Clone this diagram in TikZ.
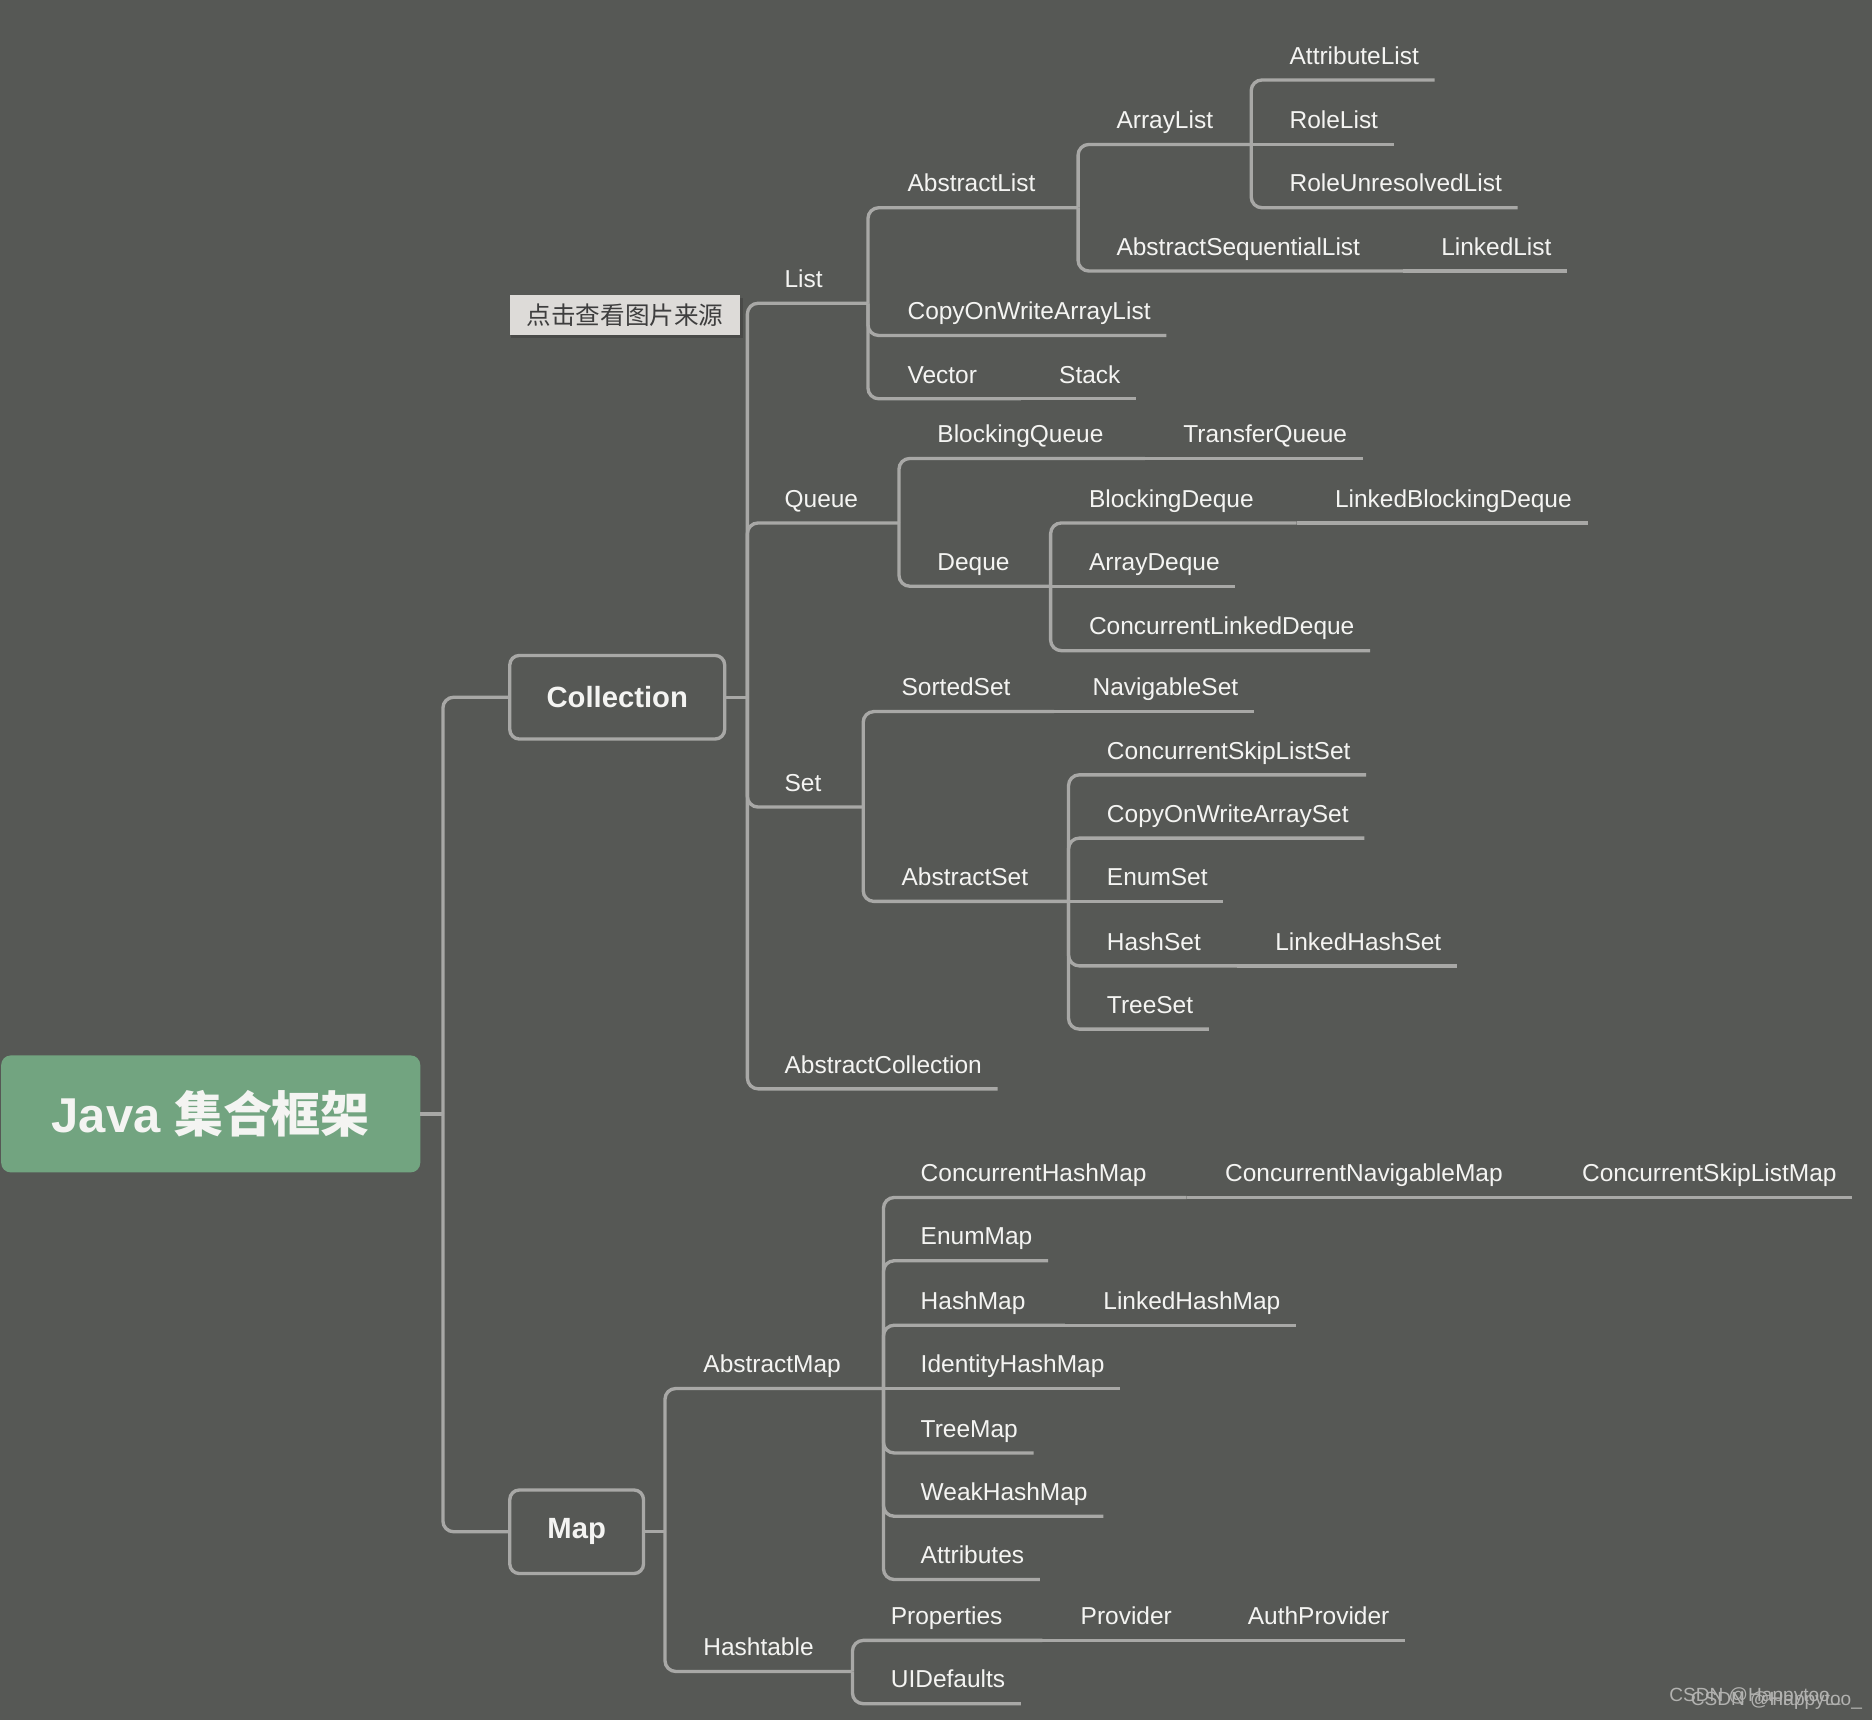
\documentclass[tikz,border=0pt]{standalone}
\usepackage{fontspec}
\setmainfont{Liberation Sans}
\newfontfamily\cjkfont{Noto Sans CJK SC}
\usepackage{xcolor}
\definecolor{bgcolor}{RGB}{86,88,85}
\definecolor{linecolor}{RGB}{168,168,166}
\definecolor{textcolor}{RGB}{244,244,242}
\definecolor{rootcolor}{RGB}{114,164,128}
\definecolor{tagcolor}{RGB}{221,219,216}
\definecolor{tagtext}{RGB}{62,62,62}
\definecolor{markcolor}{RGB}{178,178,176}
\usepackage{tikz}
\usetikzlibrary{calc}

\begin{document}
\begin{tikzpicture}[x=1pt, y=-1pt,
  every node/.style={color=textcolor, font=\fontsize{20.5}{24}\selectfont},
  topic/.style={anchor=south west, inner sep=0pt, text depth=13pt},
  branch/.style={linecolor, line width=2.8pt, rounded corners=9pt},
  box/.style={draw=linecolor, line width=2.8pt, rounded corners=8pt, minimum width=180pt, minimum height=70pt, font=\fontsize{24.5}{28}\selectfont\bfseries},
  rootbox/.style={fill=rootcolor, rounded corners=8pt, minimum width=351pt, minimum height=98pt, font=\fontsize{41}{48}\selectfont\bfseries},
  tag/.style={fill=tagcolor, text=tagtext, minimum width=193pt, minimum height=34pt, inner sep=0pt, font=\fontsize{20.6}{24}\cjkfont},
  watermark/.style={anchor=west, inner sep=0pt, text=markcolor, font=\fontsize{16}{18}\selectfont}]
  \fill[bgcolor] (0,0) rectangle (1568,1441);

  \node[rootbox] (java) at (176.5,933) {Java {\cjkfont\bfseries 集合框架}};
  \node[box] (collection) at (517,584) {Collection};
  \node[box, minimum width=112pt] (map) at (483,1283) {Map};
  \fill[black, opacity=0.15] (428,250) rectangle (622,283);
  \node[tag] (source) at (523.5,264) {点击查看图片来源};

  \coordinate (java-f) at (371,933);
  \coordinate (collection-f) at (626,584);
  \coordinate (map-f) at (557,1283);

  \node[topic] (list) at (657,254) {List};
  \node[topic] (queue) at (657,438) {Queue};
  \node[topic] (set) at (657,676) {Set};
  \node[topic] (abscoll) at (657,912) {AbstractCollection};
  \coordinate (list-f) at (727,254);
  \coordinate (queue-f) at (753,438);
  \coordinate (set-f) at (723,676);

  \node[topic] (abslist) at (760,174) {AbstractList};
  \node[topic] (cowal) at (760,281) {CopyOnWriteArrayList};
  \node[topic] (vector) at (760,334) {Vector};
  \node[topic] (stack) at (887,334) {Stack};
  \coordinate (abslist-f) at (903,174);
  \coordinate (vector-f) at (855,334);

  \node[topic] (arraylist) at (935,121) {ArrayList};
  \node[topic] (absseq) at (935,227) {AbstractSequentialList};
  \node[topic] (linkedlist) at (1207,227) {LinkedList};
  \coordinate (arraylist-f) at (1048,121);
  \coordinate (absseq-f) at (1175,227);

  \node[topic] (attrlist) at (1080,67) {AttributeList};
  \node[topic] (rolelist) at (1080,121) {RoleList};
  \node[topic] (roleunres) at (1080,174) {RoleUnresolvedList};

  \node[topic] (blockq) at (785,384) {BlockingQueue};
  \node[topic] (transferq) at (991,384) {TransferQueue};
  \node[topic] (deque) at (785,491) {Deque};
  \coordinate (blockq-f) at (959,384);
  \coordinate (deque-f) at (880,491);

  \node[topic] (blockdq) at (912,438) {BlockingDeque};
  \node[topic] (lbdq) at (1118,438) {LinkedBlockingDeque};
  \node[topic] (arraydq) at (912,491) {ArrayDeque};
  \node[topic] (cldq) at (912,545) {ConcurrentLinkedDeque};
  \coordinate (blockdq-f) at (1086,438);

  \node[topic] (sortedset) at (755,596) {SortedSet};
  \node[topic] (navset) at (915,596) {NavigableSet};
  \node[topic] (absset) at (755,755) {AbstractSet};
  \coordinate (sortedset-f) at (883,596);
  \coordinate (absset-f) at (895,755);

  \node[topic] (csls) at (927,649) {ConcurrentSkipListSet};
  \node[topic] (cowas) at (927,702) {CopyOnWriteArraySet};
  \node[topic] (enumset) at (927,755) {EnumSet};
  \node[topic] (hashset) at (927,809) {HashSet};
  \node[topic] (lhs) at (1068,809) {LinkedHashSet};
  \node[topic] (treeset) at (927,862) {TreeSet};
  \coordinate (hashset-f) at (1036,809);

  \node[topic] (absmap) at (589,1163) {AbstractMap};
  \node[topic] (hashtable) at (589,1400) {Hashtable};
  \coordinate (absmap-f) at (740,1163);
  \coordinate (hashtable-f) at (714,1400);

  \node[topic] (chm) at (771,1003) {ConcurrentHashMap};
  \node[topic] (cnm) at (1026,1003) {ConcurrentNavigableMap};
  \node[topic] (cslm) at (1325,1003) {ConcurrentSkipListMap};
  \node[topic] (enummap) at (771,1056) {EnumMap};
  \node[topic] (hashmap) at (771,1110) {HashMap};
  \node[topic] (lhm) at (924,1110) {LinkedHashMap};
  \node[topic] (ihm) at (771,1163) {IdentityHashMap};
  \node[topic] (treemap) at (771,1217) {TreeMap};
  \node[topic] (whm) at (771,1270) {WeakHashMap};
  \node[topic] (attrs) at (771,1323) {Attributes};
  \coordinate (chm-f) at (994,1003);
  \coordinate (cnm-f) at (1293,1003);
  \coordinate (hashmap-f) at (892,1110);

  \node[topic] (props) at (746,1374) {Properties};
  \node[topic] (provider) at (905,1374) {Provider};
  \node[topic] (authprov) at (1045,1374) {AuthProvider};
  \node[topic] (uidef) at (746,1427) {UIDefaults};
  \coordinate (props-f) at (873,1374);
  \coordinate (provider-f) at (1013,1374);

  \node[watermark] (mark1) at (1398,1421) {CSDN @Happytoo\_};
  \node[watermark] (mark2) at (1416,1424) {CSDN @Happytoo\_};

  \draw[branch] (java.east) -- (java-f);
  \draw[branch] (java-f) |- (collection.west);
  \draw[branch] (java-f) |- (map.west);
  \draw[branch] (collection.east) -- (collection-f);
  \draw[branch] (map.east) -- (map-f);

  \draw[branch] (collection-f) |- (list-f);
  \draw[branch] (collection-f) |- (queue-f);
  \draw[branch] (collection-f) |- (set-f);
  \draw[branch] (collection-f) |- ([xshift=13pt]abscoll.south east);

  \draw[branch] (list-f) |- (abslist-f);
  \draw[branch] (list-f) |- ([xshift=13pt]cowal.south east);
  \draw[branch] (list-f) |- (vector-f);
  \draw[branch] (vector-f) -- ([xshift=13pt]stack.south east);

  \draw[branch] (abslist-f) |- (arraylist-f);
  \draw[branch] (abslist-f) |- (absseq-f);
  \draw[branch] (absseq-f) -- ([xshift=13pt]linkedlist.south east);

  \draw[branch] (arraylist-f) |- ([xshift=13pt]attrlist.south east);
  \draw[branch] (arraylist-f) -- ([xshift=13pt]rolelist.south east);
  \draw[branch] (arraylist-f) |- ([xshift=13pt]roleunres.south east);

  \draw[branch] (queue-f) |- (blockq-f);
  \draw[branch] (blockq-f) -- ([xshift=13pt]transferq.south east);
  \draw[branch] (queue-f) |- (deque-f);

  \draw[branch] (deque-f) |- (blockdq-f);
  \draw[branch] (blockdq-f) -- ([xshift=13pt]lbdq.south east);
  \draw[branch] (deque-f) -- ([xshift=13pt]arraydq.south east);
  \draw[branch] (deque-f) |- ([xshift=13pt]cldq.south east);

  \draw[branch] (set-f) |- (sortedset-f);
  \draw[branch] (sortedset-f) -- ([xshift=13pt]navset.south east);
  \draw[branch] (set-f) |- (absset-f);

  \draw[branch] (absset-f) |- ([xshift=13pt]csls.south east);
  \draw[branch] (absset-f) |- ([xshift=13pt]cowas.south east);
  \draw[branch] (absset-f) -- ([xshift=13pt]enumset.south east);
  \draw[branch] (absset-f) |- (hashset-f);
  \draw[branch] (hashset-f) -- ([xshift=13pt]lhs.south east);
  \draw[branch] (absset-f) |- ([xshift=13pt]treeset.south east);

  \draw[branch] (map-f) |- (absmap-f);
  \draw[branch] (map-f) |- (hashtable-f);

  \draw[branch] (absmap-f) |- (chm-f);
  \draw[branch] (chm-f) -- (cnm-f);
  \draw[branch] (cnm-f) -- ([xshift=13pt]cslm.south east);
  \draw[branch] (absmap-f) |- ([xshift=13pt]enummap.south east);
  \draw[branch] (absmap-f) |- (hashmap-f);
  \draw[branch] (hashmap-f) -- ([xshift=13pt]lhm.south east);
  \draw[branch] (absmap-f) -- ([xshift=13pt]ihm.south east);
  \draw[branch] (absmap-f) |- ([xshift=13pt]treemap.south east);
  \draw[branch] (absmap-f) |- ([xshift=13pt]whm.south east);
  \draw[branch] (absmap-f) |- ([xshift=13pt]attrs.south east);

  \draw[branch] (hashtable-f) |- (props-f);
  \draw[branch] (props-f) -- (provider-f);
  \draw[branch] (provider-f) -- ([xshift=13pt]authprov.south east);
  \draw[branch] (hashtable-f) |- ([xshift=13pt]uidef.south east);
\end{tikzpicture}
\end{document}
